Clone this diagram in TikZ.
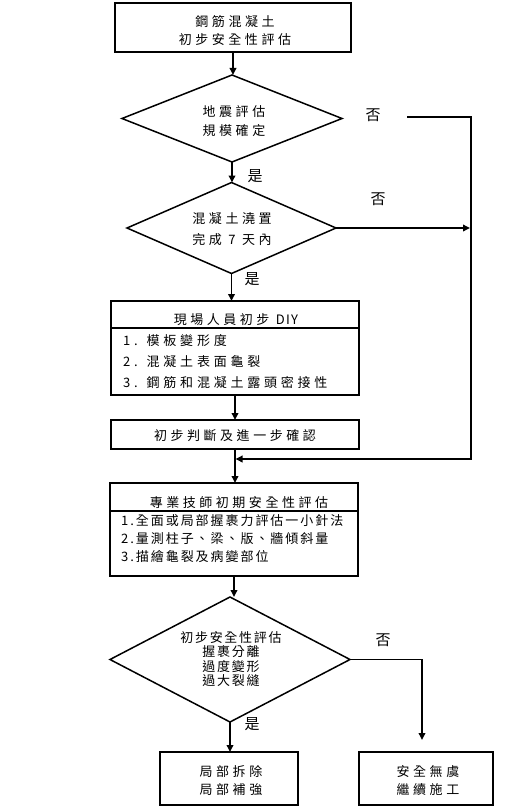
\documentclass[tikz,border=0pt]{standalone}
\usepackage{fontspec}
\setmainfont{Noto Sans CJK TC}
\newfontfamily\cjkwide{Noto Sans CJK TC}[LetterSpace=27]
\newfontfamily\cjkmed{Noto Sans CJK TC}[LetterSpace=29]
\newfontfamily\cjktight{Noto Sans CJK TC}[LetterSpace=15]
\newfontfamily\cjkdia{Noto Sans CJK TC}[LetterSpace=13]
\usetikzlibrary{arrows.meta,shapes.geometric}
\begin{document}
\begin{tikzpicture}[x=1pt,y=-1pt,
  box/.style={draw, line width=1.8pt, inner sep=0pt, outer sep=0pt},
  dia/.style={draw, diamond, line width=1.5pt, inner sep=0pt, outer sep=0pt},
  txt/.style={inner sep=0pt, font=\cjkwide\fontsize{13}{18}\selectfont, align=center},
  itemd/.style={inner sep=0pt, anchor=west, font=\cjkmed\fontsize{13}{18}\selectfont},
  itemb/.style={inner sep=0pt, anchor=west, font=\cjktight\fontsize{13}{18}\selectfont},
  lbl/.style={inner sep=0pt, font=\fontsize{15}{16}\selectfont},
  conn/.style={line width=1.8pt, line join=miter},
  arr/.style={conn, -{Triangle[length=7pt,width=6.5pt]}}]
\useasboundingbox (0,0) rectangle (504,808);

% boxes and diamonds
\node[box, minimum width=236pt, minimum height=49pt] (b1) at (233,27.5) {};
\node[dia, minimum width=220pt, minimum height=87pt] (d1) at (232,118.5) {};
\node[dia, minimum width=209pt, minimum height=91pt] (d2) at (231.5,228) {};
\node[box, minimum width=248pt, minimum height=94pt] (diy) at (235,348) {};
\node[box, minimum width=248pt, minimum height=29pt] (bj) at (235,434.5) {};
\node[box, minimum width=248pt, minimum height=93pt] (b3) at (234,529.5) {};
\node[dia, minimum width=240pt, minimum height=125pt] (d3) at (230,659.5) {};
\node[box, minimum width=138pt, minimum height=53pt] (b4) at (229,778.5) {};
\node[box, minimum width=134pt, minimum height=53pt] (b5) at (426,778.5) {};

% separators
\coordinate (s1) at (0,328);
\coordinate (s2) at (0,511);
\draw[line width=1.5pt] (diy.west |- s1) -- (diy.east |- s1);
\draw[line width=1.5pt] (b3.west |- s2) -- (b3.east |- s2);

% texts
\node[txt] (t1) at (235,31) {鋼筋混凝土\\初步安全性評估};
\node[txt] (t2) at (234,121.5) {地震評估\\[1pt]規模確定};
\node[txt] (t3) at (232,229.5) {混凝土澆置\\[3pt]完成 7 天內};
\node[txt] (t4) at (236,319.5) {現場人員初步 {\fontspec{Noto Sans CJK TC}[LetterSpace=10]DIY}};
\node[itemd] (i1) at (123,341) {1. 模板變形度};
\node[itemd] (i2) at (123,362) {2. 混凝土表面龜裂};
\node[itemd] (i3) at (123,382.5) {3. 鋼筋和混凝土露頭密接性};
\node[txt] (t5) at (235,436) {初步判斷及進一步確認};
\node[txt] (t6) at (239,502.5) {專業技師初期安全性評估};
\node[itemb] (j1) at (121,521) {1.全面或局部握裹力評估一小針法};
\node[itemb] (j2) at (121,539) {2.量測柱子、梁、版、牆傾斜量};
\node[itemb] (j3) at (121,557) {3.描繪龜裂及病變部位};
\node[inner sep=0pt, align=center, font=\cjkdia\fontsize{13}{14.3}\selectfont] (t7) at (231,659) {初步安全性評估\\握裹分離\\過度變形\\過大裂縫};
\node[txt] (t8) at (231,781) {局部拆除\\局部補強};
\node[txt] (t9) at (428,781) {安全無虞\\繼續施工};

% labels
\node[lbl] (no1) at (373,115) {否};
\node[lbl] (yes1) at (255,176) {是};
\node[lbl] (no2) at (378,199) {否};
\node[lbl] (yes2) at (252,279) {是};
\node[lbl] (no3) at (383,640) {否};
\node[lbl] (yes3) at (252,724) {是};

% connectors
\draw[arr] (b1.south) -- (b1.south |- d1.north);
\draw[arr] (d1.south) -- (d1.south |- d2.north);
\draw[arr] (d2.south) -- (d2.south |- diy.north);
\draw[arr] (diy.south) -- (diy.south |- bj.north);
\draw[arr] (bj.south) -- (bj.south |- b3.north);
\draw[arr] (b3.south) -- (b3.south |- d3.north);
\draw[arr] (d3.south) -- (d3.south |- b4.north);

\coordinate (r1) at (407,117);
\coordinate (c1) at (471,117);
\coordinate (c2) at (471,459);
\draw[arr, shorten >=0.5pt] (r1) -- (c1) -- (c2) -- (bj.south |- c2);
\draw[arr, shorten >=1pt] (d2.east) -- (d2.east -| c1);

\coordinate (c3) at (422,0);
\draw[arr, shorten >=12pt] (d3.east) -- (d3.east -| c3) -- (c3 |- b5.north);
\end{tikzpicture}
\end{document}
